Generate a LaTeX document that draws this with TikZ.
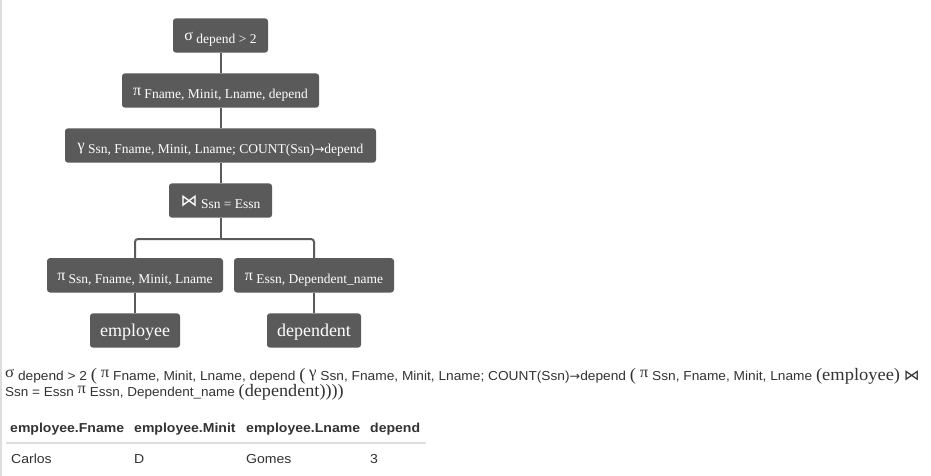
\documentclass[tikz,border=0pt]{standalone}
\usepackage{fontspec}
\setmainfont{Liberation Serif}
\setsansfont{Liberation Sans}
\newfontfamily\djv{DejaVu Sans}
\definecolor{boxgray}{HTML}{5A5A5A}
\definecolor{linegray}{HTML}{5A5A5A}
\definecolor{txt}{HTML}{333333}
\definecolor{rulegray}{HTML}{DDDDDD}
\newcommand\fs[1]{\fontsize{#1}{#1}\selectfont}
\newcommand\bsym[1]{\raisebox{3pt}{\rmfamily\fs{16}#1}}
\newcommand\jointie{{\djv ⋈}}
\newcommand\arr{{\djv\fs{12}→}}
\newcommand\esym[1]{\raisebox{2.5pt}{\rmfamily\fs{16}#1}}
\newcommand\esub[1]{{\sffamily\fs{13}#1}}
\newcommand\epar[1]{{\rmfamily\fs{17.5}#1}}
\newcommand\sx[1]{\scalebox{1.08}[1]{#1}}
\tikzset{
  opbox/.style={fill=boxgray, text=white, rounded corners=3pt, inner xsep=0pt, inner ysep=0pt,
    text height=25pt, text depth=9.4pt, font=\rmfamily\fs{13.5}},
  relbox/.style={opbox, text height=22.7pt, text depth=11.7pt, font=\rmfamily\fs{18}},
  conn/.style={draw=linegray, line width=2pt},
  hdr/.style={anchor=base west, inner sep=0pt, text=txt, font=\sffamily\bfseries\fs{13}},
  cell/.style={anchor=base west, inner sep=0pt, text=txt, font=\sffamily\fs{13}},
  expr/.style={anchor=base west, inner sep=0pt, text=txt, font=\sffamily\fs{13}}
}
\begin{document}
\begin{tikzpicture}[x=1pt,y=-1pt]
\useasboundingbox (0,0) rectangle (931,476);
\fill[white] (0,0) rectangle (931,476);
\draw[rulegray, line width=1.5pt] (1,0) -- (1,476);
% tree
\node[opbox, minimum width=95pt] (sig) at (220.5,35.5) {\bsym{σ} depend > 2};
\node[opbox, minimum width=197pt] (proj) at (220.5,90.5) {\bsym{π} Fname, Minit, Lname, depend};
\node[opbox, minimum width=311pt] (gam) at (220.5,145.5) {\bsym{γ} Ssn, Fname, Minit, Lname; COUNT(Ssn)\arr depend};
\node[opbox, minimum width=103pt] (join) at (220.5,200.5) {\raisebox{2pt}{\fs{17}\jointie} Ssn = Essn};
\node[opbox, minimum width=176pt] (pl) at (135,275.3) {\bsym{π} Ssn, Fname, Minit, Lname};
\node[opbox, minimum width=160pt] (pr) at (314,275.3) {\bsym{π} Essn, Dependent\_name};
\node[relbox, minimum width=90pt] (emp) at (135,330.5) {\rmfamily employee};
\node[relbox, minimum width=94pt] (dep) at (314,330.5) {\rmfamily dependent};
\coordinate (split) at (220.5,239);
\draw[conn] (sig) -- (proj);
\draw[conn] (proj) -- (gam);
\draw[conn] (gam) -- (join);
\draw[conn] (join) -- (split);
\draw[conn, rounded corners=3pt] (split) -| (pl);
\draw[conn, rounded corners=3pt] (split) -| (pr);
\draw[conn] (pl) -- (emp);
\draw[conn] (pr) -- (dep);
% expression
\node[expr] (e1) at (5,380) {\scalebox{1.055}[1]{\esym{σ} \esub{depend > 2} \epar{(} \esym{π} \esub{Fname, Minit, Lname, depend} \epar{(} \esym{γ} \esub{Ssn, Fname, Minit, Lname; COUNT(Ssn)\arr depend} \epar{(} \esym{π} \esub{Ssn, Fname, Minit, Lname} \epar{(employee)} {\fs{15}\jointie}}};
\node[expr] (e2) at (5,396) {\scalebox{1.04}[1]{\esub{Ssn = Essn} \esym{π} \esub{Essn, Dependent\_name} \epar{(dependent))))}}};
% table
\node[hdr] (h1) at (10,432) {\sx{employee.Fname}};
\node[hdr] (h2) at (134,432) {\sx{employee.Minit}};
\node[hdr] (h3) at (246,432) {\sx{employee.Lname}};
\node[hdr] (h4) at (370,432) {\sx{depend}};
\draw[rulegray, line width=2pt] (6,443) -- (426,443);
\node[cell] (c1) at (11,463) {\sx{Carlos}};
\node[cell] (c2) at (134,463) {\sx{D}};
\node[cell] (c3) at (246,463) {\sx{Gomes}};
\node[cell] (c4) at (370,463) {\sx{3}};
\end{tikzpicture}
\end{document}
